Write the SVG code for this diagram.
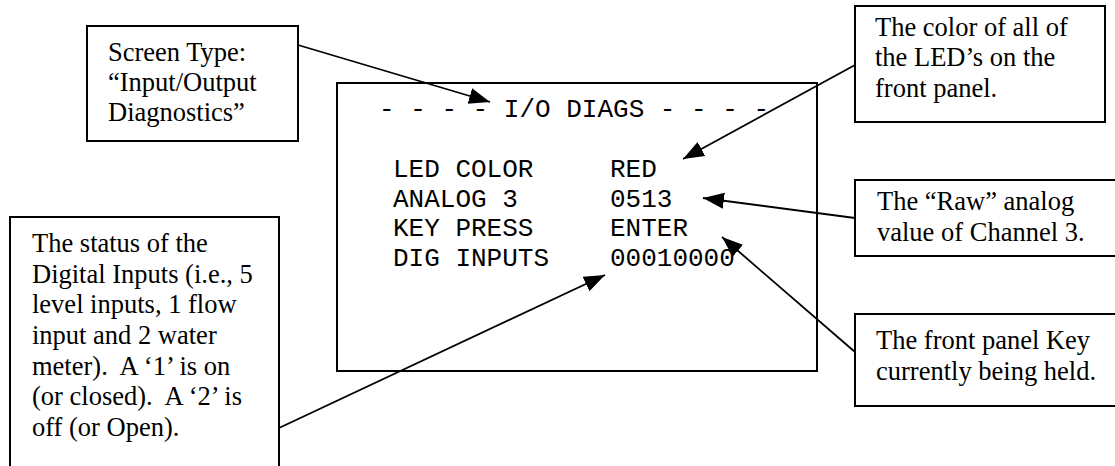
<svg xmlns="http://www.w3.org/2000/svg" width="1115" height="466" viewBox="0 0 1115 466">
<style>
.box{fill:#fff;stroke:#000;stroke-width:2}
.t{font-family:"Liberation Serif","Times New Roman",serif;font-size:26.5px;fill:#000}
.m{font-family:"Liberation Mono","Courier New",monospace;font-size:26px;fill:#000}
.c{stroke:#000;stroke-width:1.8;fill:none;marker-end:url(#ah)}
</style>
<defs>
<marker id="ah" markerUnits="userSpaceOnUse" markerWidth="22" markerHeight="18" refX="21" refY="9" orient="auto">
<path d="M0,1 L21,9 L0,17 z" fill="#000"/>
</marker>
</defs>
<rect width="1115" height="466" fill="#fff"/>
<g id="screen">
<rect class="box" x="337" y="83" width="480" height="288" stroke-width="2.5"/>
<text class="m" x="379" y="117" xml:space="preserve">- - - - I/O DIAGS - - - -</text>
<text class="m" x="393" y="177">LED COLOR</text>
<text class="m" x="393" y="207">ANALOG 3</text>
<text class="m" x="393" y="236">KEY PRESS</text>
<text class="m" x="393" y="266">DIG INPUTS</text>
<text class="m" x="610" y="177">RED</text>
<text class="m" x="610" y="207">0513</text>
<text class="m" x="610" y="236">ENTER</text>
<text class="m" x="610" y="266">00010000</text>
</g>
<g id="screen-type">
<rect class="box" x="87" y="26" width="211" height="115"/>
<text class="t" x="108" y="61">Screen Type:</text>
<text class="t" x="108" y="91">“Input/Output</text>
<text class="t" x="108" y="121">Diagnostics”</text>
</g>
<g id="led-note">
<rect class="box" x="855" y="6" width="250" height="116"/>
<text class="t" x="875" y="36">The color of all of</text>
<text class="t" x="875" y="66">the LED’s on the</text>
<text class="t" x="875" y="97">front panel.</text>
</g>
<g id="raw-note">
<rect class="box" x="855" y="180" width="270" height="76"/>
<text class="t" x="877" y="210">The “Raw” analog</text>
<text class="t" x="877" y="241">value of Channel 3.</text>
</g>
<g id="key-note">
<rect class="box" x="855" y="314" width="270" height="92"/>
<text class="t" x="876" y="349">The front panel Key</text>
<text class="t" x="876" y="380">currently being held.</text>
</g>
<g id="dig-note">
<rect class="box" x="10" y="217" width="269" height="260"/>
<text class="t" x="32" y="252">The status of the</text>
<text class="t" x="32" y="283">Digital Inputs (i.e., 5</text>
<text class="t" x="32" y="313">level inputs, 1 flow</text>
<text class="t" x="32" y="344">input and 2 water</text>
<text class="t" x="32" y="375" xml:space="preserve">meter).  A ‘1’ is on</text>
<text class="t" x="32" y="405" xml:space="preserve">(or closed).  A ‘2’ is</text>
<text class="t" x="32" y="436">off (or Open).</text>
</g>
<g id="connectors">
<path class="c" d="M298,45 L490,102"/>
<path class="c" d="M855,65 L683,159"/>
<path class="c" d="M855,218 L703,198"/>
<path class="c" d="M855,352 L722,237"/>
<path class="c" d="M279,428 L605,275"/>
</g>
</svg>
